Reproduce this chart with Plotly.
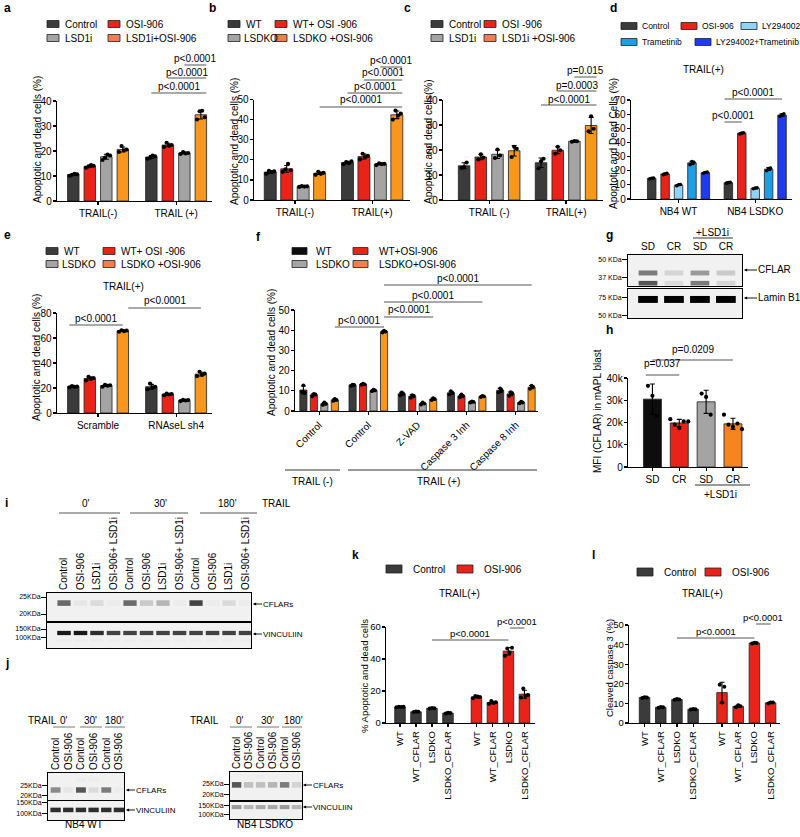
import plotly.graph_objects as go

W, H = 800, 837
FONT = "Liberation Sans"

C_DARK = "#3b3b3b"
C_BLACK = "#0d0d0d"
C_RED = "#e8241a"
C_GRAY = "#a4a4a4"
C_ORANGE = "#f8961d"
C_ORANGE_LEG = "#f47d4e"
C_LTBLUE = "#8fd3f7"
C_BLUE = "#1d9fe8"
C_DBLUE = "#1f3bf2"
C_H_ORANGE = "#f6851f"

# ---------------- data ----------------
# panel a
a_cats = ["TRAIL(-)", "TRAIL (+)"]
a_series = ["Control", "OSI-906", "LSD1i", "LSD1i+OSI-906"]
a_mean = {"Control": [10.6, 17.6], "OSI-906": [13.9, 22.4], "LSD1i": [17.7, 19.2], "LSD1i+OSI-906": [20.6, 34.5]}
a_err = {"Control": [0.35, 0.6], "OSI-906": [0.45, 0.7], "LSD1i": [1.0, 0.35], "LSD1i+OSI-906": [1.0, 1.7]}
a_dots = {
    "Control": [[10.1, 10.5, 10.9, 10.7], [16.9, 17.3, 18.2, 17.9]],
    "OSI-906": [[13.3, 13.8, 14.4, 14.1], [21.6, 23.3, 22.1, 22.4]],
    "LSD1i": [[16.4, 17.4, 18.6, 18.2], [18.8, 19.6, 19.0, 19.2]],
    "LSD1i+OSI-906": [[19.6, 22.0, 20.3, 20.6], [32.6, 35.9, 36.1, 33.5]],
}
# panel b
b_cats = ["TRAIL(-)", "TRAIL(+)"]
b_series = ["WT", "WT+ OSI -906", "LSDKO", "LSDKO +OSI-906"]
b_mean = {"WT": [13.9, 18.6], "WT+ OSI -906": [15.5, 21.6], "LSDKO": [6.7, 17.9], "LSDKO +OSI-906": [13.3, 42.4]}
b_err = {"WT": [0.6, 0.6], "WT+ OSI -906": [1.7, 1.2], "LSDKO": [0.2, 0.4], "LSDKO +OSI-906": [0.6, 1.9]}
b_dots = {
    "WT": [[13.0, 14.5, 13.8, 14.2], [17.8, 18.9, 18.4, 19.2]],
    "WT+ OSI -906": [[14.0, 15.3, 18.0, 14.8], [20.2, 23.0, 21.4, 22.0]],
    "LSDKO": [[6.5, 6.9, 6.7, 6.8], [17.4, 18.2, 17.8, 18.0]],
    "LSDKO +OSI-906": [[12.5, 14.0, 13.0, 13.5], [40.0, 44.5, 42.0, 43.0]],
}
# panel c
c_cats = ["TRAIL (-)", "TRAIL(+)"]
c_series = ["Control", "OSI -906", "LSD1i", "LSD1i +OSI-906"]
c_mean = {"Control": [13.7, 14.9], "OSI -906": [17.2, 19.9], "LSD1i": [18.3, 23.5], "LSD1i +OSI-906": [19.7, 29.8]}
c_err = {"Control": [1.2, 1.9], "OSI -906": [1.1, 1.4], "LSD1i": [1.7, 0.2], "LSD1i +OSI-906": [2.1, 3.2]}
c_dots = {
    "Control": [[12.8, 13.2, 15.0], [12.7, 15.5, 16.5]],
    "OSI -906": [[16.2, 18.3, 17.0], [18.5, 21.3, 19.9]],
    "LSD1i": [[16.8, 20.2, 17.8], [23.3, 23.6, 23.5]],
    "LSD1i +OSI-906": [[17.2, 21.3, 20.5], [27.5, 33.5, 28.5]],
}
# panel d
d_cats = ["NB4 WT", "NB4 LSDKO"]
d_series = ["Control", "OSI-906", "LY294002", "Trametinib", "LY294002+Trametinib"]
d_mean = {"Control": [14.6, 11.5], "OSI-906": [17.7, 46.5], "LY294002": [9.9, 7.6],
          "Trametinib": [25.6, 21.1], "LY294002+Trametinib": [18.6, 59.4]}
d_err = {"Control": [0.3, 0.3], "OSI-906": [0.5, 0.4], "LY294002": [0.4, 0.3],
         "Trametinib": [1.1, 1.0], "LY294002+Trametinib": [0.4, 0.9]}
d_dots = {
    "Control": [[14.3, 14.7, 14.9], [11.2, 11.6, 11.8]],
    "OSI-906": [[17.2, 17.8, 18.1], [46.0, 46.6, 46.8]],
    "LY294002": [[9.4, 10.0, 10.2], [7.3, 7.7, 7.9]],
    "Trametinib": [[24.3, 26.5, 25.9], [20.0, 21.5, 21.8]],
    "LY294002+Trametinib": [[18.2, 18.7, 19.0], [58.5, 59.6, 60.2]],
}
# panel e
e_cats = ["Scramble", "RNAseL sh4"]
e_series = ["WT", "WT+ OSI -906", "LSDKO", "LSDKO +OSI-906"]
e_mean = {"WT": [21.1, 21.0], "WT+ OSI -906": [27.6, 14.9], "LSDKO": [21.9, 10.1], "LSDKO +OSI-906": [65.7, 31.1]}
e_err = {"WT": [0.4, 1.9], "WT+ OSI -906": [1.2, 0.6], "LSDKO": [0.6, 0.4], "LSDKO +OSI-906": [0.5, 1.5]}
e_dots = {
    "WT": [[20.5, 21.5, 21.0, 21.2], [19.0, 23.5, 20.5, 21.0]],
    "WT+ OSI -906": [[26.0, 29.0, 27.5, 28.0], [14.2, 15.5, 14.8, 15.2]],
    "LSDKO": [[21.0, 22.5, 21.8, 22.2], [9.5, 10.5, 10.0, 10.3]],
    "LSDKO +OSI-906": [[65.0, 66.2, 65.5, 66.0], [29.5, 33.0, 30.5, 31.5]],
}
# panel f
f_cats = ["Control", "Control", "Z-VAD", "Caspase 3 Inh", "Caspase 8 Inh"]
f_series = ["WT", "WT+OSI-906", "LSDKO", "LSDKO+OSI-906"]
f_mean = {"WT": [10.4, 12.8, 8.5, 9.0, 10.2], "WT+OSI-906": [8.0, 13.2, 7.3, 7.5, 8.5],
          "LSDKO": [3.6, 10.2, 3.7, 4.5, 4.2], "LSDKO+OSI-906": [5.5, 39.3, 5.9, 7.2, 11.8]}
f_err = {"WT": [2.0, 0.3, 0.7, 0.8, 1.0], "WT+OSI-906": [0.6, 0.3, 0.7, 0.7, 0.9],
         "LSDKO": [0.6, 0.4, 0.5, 0.3, 0.4], "LSDKO+OSI-906": [0.5, 0.5, 0.5, 0.3, 0.8]}
f_dots = {
    "WT": [[9.5, 12.7, 9.0], [12.5, 13.0, 12.9], [7.8, 9.2, 8.5], [8.2, 9.8, 9.0], [9.2, 11.2, 10.2]],
    "WT+OSI-906": [[7.3, 8.5, 8.2], [13.0, 13.5, 13.2], [6.5, 7.8, 7.5], [6.8, 8.2, 7.5], [7.5, 9.3, 8.8]],
    "LSDKO": [[3.0, 4.2, 3.6], [9.8, 10.6, 10.2], [3.2, 4.2, 3.7], [4.2, 4.8, 4.5], [3.8, 4.6, 4.2]],
    "LSDKO+OSI-906": [[5.0, 6.0, 5.5], [38.8, 39.8, 39.3], [5.4, 6.4, 5.9], [6.9, 7.5, 7.2], [11.0, 12.5, 11.9]],
}
# panel g (blot band intensities, 0 = none, 1 = black)
g_lanes = ["SD", "CR", "SD", "CR"]
g_cflar_upper = [0.70, 0.35, 0.60, 0.40]
g_cflar_lower = [0.80, 0.30, 0.70, 0.35]
g_lamin = [1.0, 1.0, 1.0, 1.0]
# panel h
h_cats = ["SD", "CR", "SD", "CR"]
h_mean = [30500, 19800, 29300, 19400]
h_err = [6800, 1600, 5200, 2500]
h_dots = [[36500, 32000, 23000], [21500, 19000, 17500, 20500, 20500],
          [33000, 31500, 23500], [23500, 19000, 18000, 19500, 17000]]
# panel i
i_lanes = ["Control", "OSI-906", "LSD1i", "OSI-906+ LSD1i"] * 3
i_cflar = [0.75, 0.20, 0.30, 0.15, 0.75, 0.40, 0.50, 0.15, 0.85, 0.15, 0.30, 0.15]
i_vinc = [0.95, 0.95, 0.90, 0.85, 0.85, 0.85, 0.85, 0.85, 0.85, 0.85, 0.85, 0.85]
i_vinc_low = [0.15, 0.15, 0.15, 0.12, 0.12, 0.12, 0.12, 0.12, 0.12, 0.12, 0.12, 0.12]
# panel j
j_lanes = ["Control", "OSI-906"] * 3
j_wt_cflar = [0.65, 0.20, 0.80, 0.30, 0.70, 0.15]
j_wt_upper = [0.0, 0.0, 0.15, 0.12, 0.0, 0.0]
j_wt_vinc = [0.90, 0.90, 0.90, 0.90, 0.90, 0.90]
j_ko_cflar = [0.80, 0.45, 0.45, 0.50, 0.70, 0.35]
j_ko_upper = [0.0, 0.0, 0.12, 0.10, 0.0, 0.0]
j_ko_vinc = [0.60, 0.50, 0.55, 0.55, 0.60, 0.50]
# panels k and l
kl_cats = ["WT", "WT_CFLAR", "LSDKO", "LSDKO_CFLAR"]
kl_groups = ["Control", "OSI-906"]
k_mean = {"Control": [10.0, 7.0, 9.2, 6.2], "OSI-906": [16.3, 12.8, 44.9, 18.0]}
k_err = {"Control": [0.2, 0.2, 0.2, 0.2], "OSI-906": [0.6, 0.8, 2.3, 2.5]}
k_dots = {"Control": [[9.8, 10.2, 10.0, 10.1], [6.8, 7.2, 7.0], [9.0, 9.4, 9.2], [6.0, 6.4, 6.2]],
          "OSI-906": [[15.5, 16.8, 16.5, 16.2], [12.0, 13.8, 12.5, 13.0], [42.0, 46.5, 44.0, 47.0], [16.0, 21.5, 17.0, 17.5]]}
l_mean = {"Control": [13.0, 8.0, 12.0, 7.0], "OSI-906": [15.5, 8.5, 40.8, 10.3]}
l_err = {"Control": [0.2, 0.2, 0.2, 0.1], "OSI-906": [5.3, 0.5, 0.3, 0.3]}
l_dots = {"Control": [[12.8, 13.2, 13.0], [7.8, 8.2, 8.0], [11.8, 12.2, 12.0], [6.9, 7.1, 7.0]],
          "OSI-906": [[19.5, 10.5, 18.5], [8.0, 9.0, 8.5], [40.5, 41.0, 40.8], [10.0, 10.5, 10.4]]}

# ---------------- helpers ----------------
fig = go.Figure()
layout = {}
ann = []
shp = []


def keys(n):
    s = "" if n == 1 else str(n)
    return "xaxis" + s, "yaxis" + s, "x" + s, "y" + s


def X(p):
    return p / W


def Y(p):
    return 1 - p / H


def text(t, x, y, size=10, xa="center", ya="middle", angle=0, bold=False, color="black"):
    ann.append(dict(text=("<b>%s</b>" % t) if bold else t, x=X(x), y=Y(y), xref="paper", yref="paper",
                    xanchor=xa, yanchor=ya, textangle=angle, showarrow=False,
                    font=dict(size=size, color=color, family=FONT)))


def arrow_label(t, x_tip, y, length=13, size=10):
    ann.append(dict(text=t, x=X(x_tip), y=Y(y), xref="paper", yref="paper", showarrow=True, arrowhead=2,
                    arrowsize=0.7, arrowwidth=0.9, arrowcolor="black", ax=length, ay=0, xanchor="left",
                    yanchor="middle", borderpad=0, standoff=0,
                    font=dict(size=size, color="black", family=FONT)))


def hline(x0, x1, y, w=1, color="#555555"):
    shp.append(dict(type="line", xref="paper", yref="paper", x0=X(x0), x1=X(x1), y0=Y(y), y1=Y(y),
                    line=dict(color=color, width=w)))


def legend_item(xb, y, color, label, bw=12, bh=7, gap=4, size=10):
    shp.append(dict(type="rect", xref="paper", yref="paper", x0=X(xb), x1=X(xb + bw), y0=Y(y + bh / 2),
                    y1=Y(y - bh / 2), fillcolor=color, line=dict(color="#222222", width=0.8)))
    text(label, xb + bw + gap, y, size=size, xa="left")


AX_COMMON = dict(showline=True, linecolor="black", linewidth=1.3, ticks="outside", ticklen=3, tickwidth=1.2,
                 tickcolor="black", showgrid=False, zeroline=False, fixedrange=True, automargin=False)


def bar_axes(n, x0, x1, ytop, ybot, xrange, ymax, ytickvals, xtickvals, xticktext, angle=0, fs=10,
             yticktext=None):
    xk, yk, xr, yr = keys(n)
    layout[xk] = dict(AX_COMMON, domain=[X(x0), X(x1)], range=list(xrange), anchor=yr, tickmode="array",
                      tickvals=xtickvals, ticktext=xticktext, tickangle=angle,
                      tickfont=dict(size=fs, family=FONT, color="black"))
    yd = dict(AX_COMMON, domain=[Y(ybot), Y(ytop)], range=[0, ymax], anchor=xr, tickmode="array",
              tickvals=ytickvals, ticklabelstandoff=-1, tickfont=dict(size=fs, family=FONT, color="black"))
    if yticktext is not None:
        yd["ticktext"] = yticktext
    layout[yk] = yd


def add_bars(n, xs, ys, errs, colors, width):
    xk, yk, xr, yr = keys(n)
    fig.add_trace(go.Bar(x=xs, y=ys, width=width, xaxis=xr, yaxis=yr,
                         marker=dict(color=colors, line=dict(color="#202020", width=0.8)),
                         error_y=dict(type="data", array=errs, color="black", thickness=1.1, width=2.5),
                         showlegend=False, hoverinfo="skip"))


def add_dots(n, xs, reps_list, width, dsize, spread=0.22):
    xk, yk, xr, yr = keys(n)
    dx, dy = [], []
    for xc, reps in zip(xs, reps_list):
        m = len(reps)
        for k, v in enumerate(reps):
            dx.append(xc + (k - (m - 1) / 2) * width * spread)
            dy.append(v)
    fig.add_trace(go.Scatter(x=dx, y=dy, mode="markers", xaxis=xr, yaxis=yr, cliponaxis=False,
                             marker=dict(color="black", size=dsize), showlegend=False, hoverinfo="skip"))


def bar_panel(n, cats, series, colors, means, errs, dots, slot, bw, dsize=4.2):
    ns = len(series)
    pos = {}
    for si, s in enumerate(series):
        xs = [ci + (si - (ns - 1) / 2) * slot for ci in range(len(cats))]
        pos[s] = xs
        add_bars(n, xs, means[s], errs[s], colors[si], bw)
        add_dots(n, xs, dots[s], bw, dsize)
    return pos


def pval(n, t, xa, xb, yl, yt, fs=10):
    xk, yk, xr, yr = keys(n)
    shp.append(dict(type="line", xref=xr, yref="paper", x0=xa, x1=xb, y0=Y(yl), y1=Y(yl),
                    line=dict(color="#555555", width=1)))
    ann.append(dict(text=t, xref=xr, yref="paper", x=(xa + xb) / 2, y=Y(yt), showarrow=False,
                    xanchor="center", yanchor="middle", font=dict(size=fs, family=FONT, color="black")))


def blot_axes(n, x0, x1, ytop, ybot, nl, xrange, kda_vals, kda_text, top_labels=None, top_angle=0,
              top_fs=10, kfs=7):
    xk, yk, xr, yr = keys(n)
    common = dict(showline=True, mirror=True, linecolor="black", linewidth=1, showgrid=False, zeroline=False,
                  fixedrange=True, automargin=False)
    layout[xk] = dict(common, domain=[X(x0), X(x1)], range=list(xrange), anchor=yr, ticks="",
                      showticklabels=top_labels is not None, side="top", tickmode="array",
                      tickvals=list(range(nl)), ticktext=top_labels if top_labels else [""] * nl,
                      tickangle=top_angle, tickfont=dict(size=top_fs, family=FONT, color="black"))
    layout[yk] = dict(common, domain=[Y(ybot), Y(ytop)], range=[0, 1], anchor=xr, ticks="outside", ticklen=5,
                      tickcolor="black", tickwidth=1, tickmode="array", tickvals=kda_vals, ticktext=kda_text,
                      ticklabelstandoff=-1, tickfont=dict(size=kfs, family=FONT, color="black"))
    shp.append(dict(type="rect", xref=xr + " domain", yref=yr + " domain", x0=0, x1=1, y0=0, y1=1,
                    fillcolor="#f1f1f1", line=dict(width=0), layer="below"))


def band(n, yc, th, inten, w=0.72):
    xk, yk, xr, yr = keys(n)
    nl = len(inten)
    fig.add_trace(go.Bar(x=list(range(nl)), y=[th] * nl, base=[yc - th / 2] * nl, width=w, xaxis=xr, yaxis=yr,
                         marker=dict(color=inten, colorscale=[[0, "rgba(241,241,241,0)"], [1, "#000000"]],
                                     cmin=0, cmax=1, line=dict(width=0)),
                         showlegend=False, hoverinfo="skip"))


# ---------------- panel a ----------------
cols4 = [C_DARK, C_RED, C_GRAY, C_ORANGE]
bar_axes(1, 57, 212, 101, 201, (-0.526, 1.46), 40, [0, 10, 20, 30, 40], [0, 1], a_cats)
pa = bar_panel(1, a_cats, a_series, cols4, a_mean, a_err, a_dots, 0.2115, 0.147)
pval(1, "p<0.0001", pa["Control"][1], pa["LSD1i+OSI-906"][1] + 0.07, 93, 87)
pval(1, "p<0.0001", pa["OSI-906"][1], pa["LSD1i+OSI-906"][1] + 0.07, 78, 72)
pval(1, "p<0.0001", pa["LSD1i"][1], pa["LSD1i+OSI-906"][1] + 0.07, 65, 59)
text("Apoptotic and dead cells (%)", 37, 140, size=10, angle=-90)
legend_item(47, 24, C_DARK, "Control")
legend_item(108, 24, C_RED, "OSI-906")
legend_item(47, 38, C_GRAY, "LSD1i")
legend_item(108, 38, C_ORANGE_LEG, "LSD1i+OSI-906")
text("a", 2, 8, size=12, xa="left", bold=True)

# ---------------- panel b ----------------
bar_axes(2, 254, 410, 99.5, 200, (-0.53, 1.49), 50, [0, 10, 20, 30, 40, 50], [0, 1], b_cats)
pb = bar_panel(2, b_cats, b_series, cols4, b_mean, b_err, b_dots, 0.213, 0.155)
pval(2, "p<0.0001", pb["LSDKO +OSI-906"][0], pb["LSDKO +OSI-906"][1] + 0.07, 107, 100)
pval(2, "p<0.0001", pb["WT"][1], pb["LSDKO +OSI-906"][1] + 0.07, 93, 87)
pval(2, "p<0.0001", pb["WT+ OSI -906"][1], pb["LSDKO +OSI-906"][1] + 0.07, 80, 73)
pval(2, "p<0.0001", pb["LSDKO"][1], pb["LSDKO +OSI-906"][1] + 0.07, 67, 60)
text("Apoptotic and dead cells (%)", 235, 142, size=10, angle=-90)
legend_item(228, 24, C_DARK, "WT")
legend_item(275, 24, C_RED, "WT+ OSI -906")
legend_item(228, 38, C_GRAY, "LSDKO", gap=2)
legend_item(275, 38, C_ORANGE_LEG, "LSDKO +OSI-906")
text("b", 207, 8, size=12, xa="left", bold=True)

# ---------------- panel c ----------------
bar_axes(3, 443, 603, 100, 200, (-0.6, 1.48), 40, [0, 10, 20, 30, 40], [0, 1], c_cats)
pc = bar_panel(3, c_cats, c_series, cols4, c_mean, c_err, c_dots, 0.217, 0.15)
pval(3, "p<0.0001", pc["Control"][1], pc["LSD1i +OSI-906"][1] + 0.07, 105, 99)
pval(3, "p=0.0003", pc["OSI -906"][1], pc["LSD1i +OSI-906"][1] + 0.07, 91, 85)
pval(3, "p=0.015", pc["LSD1i"][1], pc["LSD1i +OSI-906"][1] + 0.07, 77, 71)
text("Apoptotic and dead cells(%)", 429, 142, size=10, angle=-90)
legend_item(431, 24, C_DARK, "Control")
legend_item(484, 24, C_RED, "OSI -906")
legend_item(431, 38, C_GRAY, "LSD1i")
legend_item(484, 38, C_ORANGE_LEG, "LSD1i +OSI-906")
text("c", 402, 8, size=12, xa="left", bold=True)

# ---------------- panel d ----------------
cols5 = [C_DARK, C_RED, C_LTBLUE, C_BLUE, C_DBLUE]
bar_axes(4, 631, 792, 100, 199, (-0.62, 1.48), 70, [0, 10, 20, 30, 40, 50, 60, 70], [0, 1], d_cats)
pd_ = bar_panel(4, d_cats, d_series, cols5, d_mean, d_err, d_dots, 0.175, 0.111, dsize=3.6)
pval(4, "p<0.0001", pd_["Control"][1] - 0.05, pd_["OSI-906"][1], 122, 115)
pval(4, "p<0.0001", pd_["Control"][1] - 0.05, pd_["LY294002+Trametinib"][1], 99, 92)
text("TRAIL(+)", 703, 69, size=10)
text("Apoptotic and Dead Cells (%)", 613, 144, size=10, angle=-90)
legend_item(621, 26, C_DARK, "Control", bw=16, gap=3, size=8.5)
legend_item(681, 26, C_RED, "OSI-906", bw=16, gap=3, size=8.5)
legend_item(741, 26, C_LTBLUE, "LY294002", bw=16, gap=3, size=8.5)
legend_item(621, 42, C_BLUE, "Trametinib", bw=16, gap=3, size=8.5)
legend_item(695, 42, C_DBLUE, "LY294002+Trametinib", bw=16, gap=3, size=8.5)
text("d", 608, 8, size=12, xa="left", bold=True)

# ---------------- panel e ----------------
bar_axes(5, 57, 212, 313, 413, (-0.526, 1.46), 80, [0, 20, 40, 60, 80], [0, 1], e_cats)
pe = bar_panel(5, e_cats, e_series, cols4, e_mean, e_err, e_dots, 0.2115, 0.147)
pval(5, "p<0.0001", pe["WT"][0] - 0.05, pe["LSDKO +OSI-906"][0], 325, 318)
pval(5, "p<0.0001", pe["LSDKO +OSI-906"][0] + 0.07, pe["LSDKO +OSI-906"][1], 308, 300)
text("TRAIL(+)", 123, 286, size=10)
text("Apoptotic and dead cells (%)", 37, 358, size=10, angle=-90)
legend_item(46, 251, C_DARK, "WT")
legend_item(103, 251, C_RED, "WT+ OSI -906")
legend_item(46, 264, C_GRAY, "LSDKO", gap=2)
legend_item(103, 264, C_ORANGE_LEG, "LSDKO +OSI-906")
text("e", 2, 235, size=12, xa="left", bold=True)

# ---------------- panel f ----------------
bar_axes(6, 295, 538, 310, 411, (-0.49, 4.45), 50, [0, 10, 20, 30, 40, 50], [0, 1, 2, 3, 4], f_cats,
         angle=-45)
pf = bar_panel(6, f_cats, f_series, cols4, f_mean, f_err, f_dots, 0.213, 0.145, dsize=3.8)
o = "LSDKO+OSI-906"
pval(6, "p<0.0001", pf[o][0], pf[o][1], 327, 320)
pval(6, "p<0.0001", pf[o][1], pf[o][2], 317, 309)
pval(6, "p<0.0001", pf[o][1], pf[o][3], 302, 295)
pval(6, "p<0.0001", pf[o][1], pf[o][4], 285, 278)
text("Apoptotic and dead cells (%)", 272, 353, size=10, angle=-90)
legend_item(292, 251, C_BLACK, "WT", bw=15, gap=7)
legend_item(353, 251, C_RED, "WT+OSI-906", bw=15, gap=9)
legend_item(292, 264, C_GRAY, "LSDKO", bw=15, gap=7)
legend_item(353, 264, C_ORANGE_LEG, "LSDKO+OSI-906", bw=15, gap=9)
hline(285, 340, 470, color="#333333")
hline(348, 537, 470, color="#333333")
text("TRAIL (-)", 312, 481, size=10)
text("TRAIL (+)", 438, 481, size=10)
text("f", 254, 237, size=12, xa="left", bold=True)

# ---------------- panel g (blot) ----------------
blot_axes(7, 628, 742, 255, 286, 4, (-0.77, 3.62), [0.84, 0.26], ["50 KDa", "37 KDa"], top_labels=g_lanes,
          top_fs=10)
band(7, 0.42, 0.16, g_cflar_upper, w=0.72)
band(7, 0.09, 0.15, g_cflar_lower, w=0.72)
blot_axes(8, 628, 742, 289, 318, 4, (-0.77, 3.62), [0.72, 0.10], ["75 KDa", "50 KDa"])
band(8, 0.64, 0.24, g_lamin, w=0.76)
text("+LSD1i", 712, 232, size=10)
hline(693, 733, 238, color="#333333")
arrow_label("CFLAR", 744, 270, length=13, size=10)
arrow_label("Lamin B1", 744, 298, length=13, size=10)
text("g", 604, 235, size=12, xa="left", bold=True)

# ---------------- panel h ----------------
h_cols = [C_BLACK, C_RED, C_GRAY, C_H_ORANGE]
bar_axes(9, 628, 748, 378, 467, (-0.91, 3.56), 40000, [0, 10000, 20000, 30000, 40000], [0, 1, 2, 3], h_cats,
         yticktext=["0", "10k", "20k", "30k", "40k"])
hx = list(range(len(h_cats)))
add_bars(9, hx, h_mean, h_err, h_cols, 0.67)
add_dots(9, hx, h_dots, 0.67, 4.2, spread=0.25)
pval(9, "p=0.037", hx[0] - 0.25, hx[1], 375, 363)
pval(9, "p=0.0209", hx[0], hx[3], 360, 349)
text("MFI (CFLAR) in mAPL blast", 597, 411, size=10, angle=-90)
hline(695, 750, 485, color="#333333")
text("+LSD1i", 720, 494, size=10)
text("h", 604, 330, size=12, xa="left", bold=True)

# ---------------- panel i (blot) ----------------
blot_axes(10, 47, 251, 593, 621, 12, (-1.03, 11.33), [0.857, 0.25], ["25KDa", "20KDa"], top_labels=i_lanes,
          top_angle=-90, top_fs=10)
band(10, 0.64, 0.2, i_cflar, w=0.8)
blot_axes(11, 47, 251, 623, 648, 12, (-1.03, 11.33), [0.76, 0.42], ["150KDa", "100KDa"])
band(11, 0.6, 0.17, i_vinc, w=0.82)
band(11, 0.3, 0.1, i_vinc_low, w=0.82)
for lab, xc in [("0'", 86), ("30'", 160), ("180'", 228)]:
    text(lab, xc, 503, size=10)
hline(59, 120, 513, color="#555555")
hline(130, 188, 513, color="#555555")
hline(200, 257, 513, color="#555555")
text("TRAIL", 276, 503, size=10)
arrow_label("CFLARs", 253, 604, length=9, size=8)
arrow_label("VINCULIIN", 253, 634, length=9, size=8)
text("i", 3, 503, size=12, xa="left", bold=True)

# ---------------- panel j (blots) ----------------
blot_axes(12, 48, 124, 773, 800, 6, (-0.6, 5.4), [0.52, 0.15], ["25KDa", "20KDa"], top_labels=j_lanes,
          top_angle=-90, top_fs=10)
band(12, 0.37, 0.2, j_wt_cflar, w=0.78)
band(12, 0.75, 0.14, j_wt_upper, w=0.78)
blot_axes(13, 48, 124, 801, 820, 6, (-0.6, 5.4), [0.9, 0.33], ["150KDa", "100KDa"])
band(13, 0.53, 0.24, j_wt_vinc, w=0.82)
blot_axes(14, 230, 302, 772, 800, 6, (-0.55, 5.45), [0.57, 0.2], ["25KDa", "20KDa"], top_labels=j_lanes,
          top_angle=-90, top_fs=10)
band(14, 0.54, 0.2, j_ko_cflar, w=0.78)
band(14, 0.82, 0.14, j_ko_upper, w=0.78)
blot_axes(15, 230, 302, 802, 819, 6, (-0.55, 5.45), [0.78, 0.28], ["150KDa", "100KDa"])
band(15, 0.7, 0.24, j_ko_vinc, w=0.82)
text("TRAIL", 42, 720, size=10)
for lab, xc in [("0'", 64), ("30'", 90), ("180'", 115)]:
    text(lab, xc, 720, size=10)
for a0, a1 in [(53, 75), (80, 102), (105, 125)]:
    hline(a0, a1, 727, color="#777777")
text("TRAIL", 205, 720, size=10)
for lab, xc in [("0'", 240), ("30'", 267), ("180'", 293)]:
    text(lab, xc, 720, size=10)
for a0, a1 in [(230, 252), (257, 279), (282, 302)]:
    hline(a0, a1, 727, color="#777777")
arrow_label("CFLARs", 126, 790, length=9, size=8)
arrow_label("VINCULIIN", 126, 810, length=9, size=8)
arrow_label("CFLARs", 303, 785, length=9, size=8)
arrow_label("VINCULIIN", 303, 807, length=9, size=8)
text("NB4 WT", 84, 824, size=10)
text("NB4 LSDKO", 265, 824, size=10)
text("j", 3, 663, size=12, xa="left", bold=True)

# ---------------- panels k and l ----------------
GROUP_GAP = 0.78
kl_cols = [C_DARK, C_RED]


def cat_group_panel(n, means, errs, dots, bw, dsize=4.0):
    pos = {}
    for gi, g in enumerate(kl_groups):
        xs = [ci + gi * (len(kl_cats) + GROUP_GAP) for ci in range(len(kl_cats))]
        pos[g] = xs
        add_bars(n, xs, means[g], errs[g], kl_cols[gi], bw)
        add_dots(n, xs, dots[g], bw, dsize)
    return pos


kl_ticks = [ci + gi * (len(kl_cats) + GROUP_GAP) for gi in range(len(kl_groups)) for ci in range(len(kl_cats))]
bar_axes(16, 386, 535, 627, 723, (-0.875, 8.44), 60, [0, 20, 40, 60], kl_ticks, kl_cats * 2, angle=-90, fs=9.5)
pk = cat_group_panel(16, k_mean, k_err, k_dots, 0.66)
pval(16, "p<0.0001", pk["Control"][2], pk["OSI-906"][2], 640, 633, fs=9.5)
pval(16, "p<0.0001", pk["OSI-906"][2] + 0.1, pk["OSI-906"][3], 628, 621, fs=9.5)
text("% Apoptotic and dead cells", 364, 676, size=9.5, angle=-90)
text("TRAIL(+)", 460, 593, size=10)
legend_item(386, 569, C_DARK, "Control", bw=16, bh=8, gap=9)
legend_item(457, 569, C_RED, "OSI-906", bw=16, bh=8, gap=9)
text("k", 350, 555, size=12, xa="left", bold=True)

bar_axes(17, 629, 780, 625, 723, (-0.96, 8.36), 50, [0, 10, 20, 30, 40, 50], kl_ticks, kl_cats * 2, angle=-90,
         fs=9.5)
pl = cat_group_panel(17, l_mean, l_err, l_dots, 0.65)
pval(17, "p<0.0001", pl["Control"][2], pl["OSI-906"][2], 638, 631, fs=9.5)
pval(17, "p<0.0001", pl["OSI-906"][2] + 0.1, pl["OSI-906"][3], 624, 617, fs=9.5)
text("Cleaved caspase 3 (%)", 609, 668, size=9.5, angle=-90)
text("TRAIL(+)", 702, 593, size=10)
legend_item(637, 572, C_DARK, "Control", bw=16, bh=8, gap=9)
legend_item(705, 572, C_RED, "OSI-906", bw=16, bh=8, gap=9)
text("l", 590, 555, size=12, xa="left", bold=True)

fig.update_layout(width=W, height=H, margin=dict(l=0, r=0, t=0, b=0), template="none",
                  paper_bgcolor="white", plot_bgcolor="rgba(0,0,0,0)", barmode="overlay", showlegend=False,
                  font=dict(family=FONT, size=10, color="black"), annotations=ann, shapes=shp, **layout)
fig.write_html("out.html", config={"displayModeBar": False, "staticPlot": True},
               post_script="document.body.style.margin='0px';document.body.style.overflow='hidden';")
